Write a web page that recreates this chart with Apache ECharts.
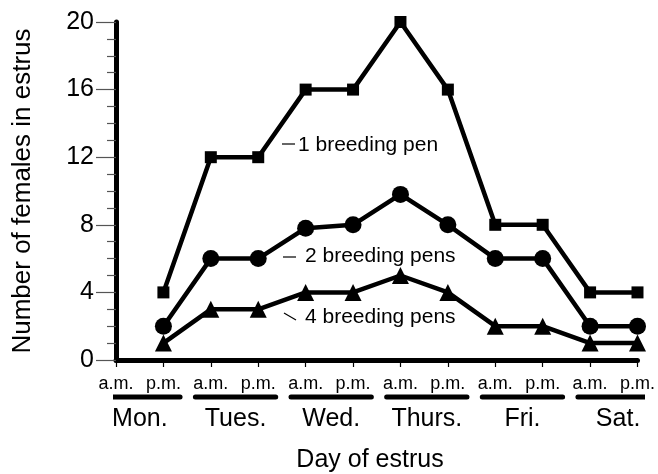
<!DOCTYPE html>
<html>
<head>
<meta charset="utf-8">
<script src="https://cdn.jsdelivr.net/npm/echarts@6/dist/echarts.min.js"></script>
<style>
  html, body { margin: 0; padding: 0; background: #fff; }
  #chart { width: 658px; height: 474px; }
</style>
</head>
<body>
<div id="chart"></div>
<script>
// half-day slots along the x axis
const slots = ['a.m.', 'p.m.', 'a.m.', 'p.m.', 'a.m.', 'p.m.', 'a.m.', 'p.m.', 'a.m.', 'p.m.', 'a.m.', 'p.m.'];
const days = ['Mon.', 'Tues.', 'Wed.', 'Thurs.', 'Fri.', 'Sat.'];
// females in estrus, one value per slot ('-' = no data)
const pen1 = ['-', 4, 12, 12, 16, 16, 20, 16, 8, 8, 4, 4];
const pen2 = ['-', 2, 6, 6, 7.8, 8, 9.8, 8, 6, 6, 2, 2];
const pen4 = ['-', 1, 3, 3, 4, 4, 5, 4, 2, 2, 1, 1];
const yMin = 0, yMax = 20, yStep = 4;

const FONT = 'Liberation Sans, Arial, Helvetica, sans-serif';
const chart = echarts.init(document.getElementById('chart'));

// underline under each day's pair of slots
const underline = [];
days.forEach((d, i) => {
  underline.push([2 * i - 0.34, 0.5], [2 * i + 1.34, 0.5], [2 * i + 1.5, '-']);
});

const lineSeries = (name, data, symbol, size) => ({
  name: name,
  type: 'line',
  data: data,
  symbol: symbol,
  symbolSize: size,
  showSymbol: true,
  connectNulls: false,
  lineStyle: { color: '#000', width: 4.5 },
  itemStyle: { color: '#000' },
  z: 3
});

const option = {
  animation: false,
  textStyle: { fontFamily: FONT, color: '#000' },
  grid: [
    { left: 116, right: 16, top: 22, bottom: 114 },
    { left: 116, right: 16, top: 396, height: 8 }
  ],
  xAxis: [{
    gridIndex: 0,
    type: 'category',
    boundaryGap: false,
    data: slots,
    axisLine: { lineStyle: { color: '#000', width: 5 } },
    axisTick: { length: 7, lineStyle: { color: '#000', width: 1.2 } },
    axisLabel: { interval: 0, fontSize: 18, margin: 15, color: '#000', fontFamily: FONT },
    splitLine: { show: false }
  }, {
    gridIndex: 1,
    type: 'value',
    min: 0,
    max: 11,
    interval: 0.5,
    axisLine: { show: false },
    axisTick: { show: false },
    splitLine: { show: false },
    axisLabel: {
      fontSize: 25, margin: 9, color: '#000', fontFamily: FONT,
      formatter: (v) => {
        const i = (v - 0.5) / 2;
        return Number.isInteger(i) && days[i] ? days[i] : '';
      }
    },
    name: 'Day of estrus',
    nameLocation: 'middle',
    nameGap: 50,
    nameTextStyle: { fontSize: 25, color: '#000', fontFamily: FONT, padding: [0, 18, 0, 0] }
  }],
  yAxis: [{
    gridIndex: 0,
    type: 'value',
    min: yMin,
    max: yMax,
    interval: yStep,
    axisLine: { show: true, lineStyle: { color: '#000', width: 5 } },
    axisTick: { show: true, length: 20, lineStyle: { color: '#555', width: 1.2 } },
    minorTick: { show: true, splitNumber: 4, length: 9, lineStyle: { color: '#555', width: 1.2 } },
    axisLabel: { fontSize: 25, margin: 22, color: '#000', fontFamily: FONT },
    splitLine: { show: false },
    minorSplitLine: { show: false },
    name: 'Number of females in estrus',
    nameLocation: 'middle',
    nameGap: 80,
    nameTextStyle: { fontSize: 26, color: '#000', fontFamily: FONT }
  }, {
    gridIndex: 1,
    type: 'value',
    min: 0,
    max: 1,
    show: false
  }],
  series: [
    lineSeries('1 breeding pen', pen1, 'rect', 12),
    lineSeries('2 breeding pens', pen2, 'circle', 17),
    lineSeries('4 breeding pens', pen4, 'triangle', 17),
    {
      type: 'line',
      xAxisIndex: 1,
      yAxisIndex: 1,
      data: underline,
      symbol: 'none',
      clip: false,
      connectNulls: false,
      silent: true,
      lineStyle: { color: '#000', width: 5, cap: 'round' }
    }
  ],
  graphic: [
    { type: 'line', shape: { x1: 282, y1: 144, x2: 295, y2: 144 }, style: { stroke: '#000', lineWidth: 1.2 } },
    { type: 'text', left: 298, top: 135, style: { text: '1 breeding pen', font: '21px ' + FONT, fill: '#000' } },
    { type: 'line', shape: { x1: 283, y1: 257, x2: 296, y2: 257 }, style: { stroke: '#000', lineWidth: 1.2 } },
    { type: 'text', left: 305, top: 246, style: { text: '2 breeding pens', font: '21px ' + FONT, fill: '#000' } },
    { type: 'line', shape: { x1: 284, y1: 313, x2: 296, y2: 320 }, style: { stroke: '#000', lineWidth: 1.2 } },
    { type: 'text', left: 305, top: 307, style: { text: '4 breeding pens', font: '21px ' + FONT, fill: '#000' } }
  ]
};

chart.setOption(option);
</script>
</body>
</html>
